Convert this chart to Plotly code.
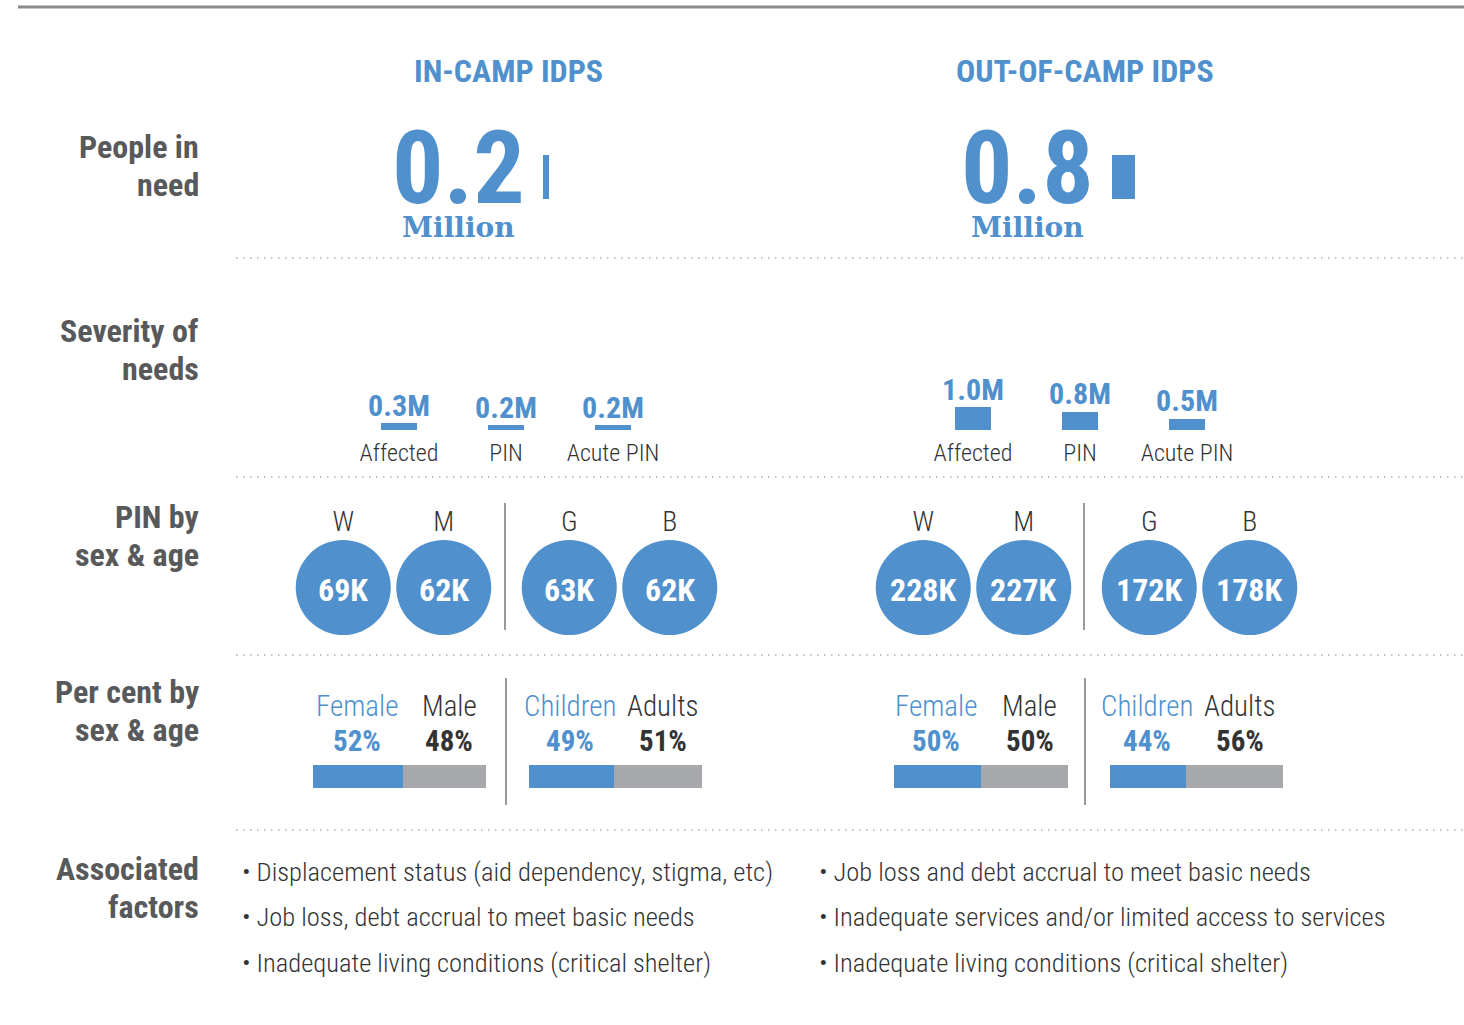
import plotly.graph_objects as go

# ── Canvas / colours ─────────────────────────────────────────────────────────
W, H = 1464, 1025
BLUE = "#4F90CD"
GREY_BAR = "#A7A8AB"
C_LABEL = "#58595B"
C_TEXT = "#333333"
C_RULE = "#8A8A8A"
C_DOT = "#B0B0B0"
FONT = "Roboto Condensed, Roboto, sans-serif"
SLAB = "Roboto Slab, DejaVu Serif, serif"

# ── Data ─────────────────────────────────────────────────────────────────────
groups = ["IN-CAMP IDPS", "OUT-OF-CAMP IDPS"]
pin_million = [0.2, 0.8]

severity_cats = ["Affected", "PIN", "Acute PIN"]
severity_in = [0.3, 0.2, 0.2]
severity_out = [1.0, 0.8, 0.5]

sex_cats = ["W", "M"]
age_cats = ["G", "B"]
pin_sex_in = [69, 62]
pin_age_in = [63, 62]
pin_sex_out = [228, 227]
pin_age_out = [172, 178]

pct_sex_labels = ["Female", "Male"]
pct_age_labels = ["Children", "Adults"]
pct_sex_in = [52, 48]
pct_age_in = [49, 51]
pct_sex_out = [50, 50]
pct_age_out = [44, 56]

row_labels = [["People in", "need"], ["Severity of", "needs"], ["PIN by", "sex & age"],
              ["Per cent by", "sex & age"], ["Associated", "factors"]]
factors_in = ["Displacement status (aid dependency, stigma, etc)",
              "Job loss, debt accrual to meet basic needs",
              "Inadequate living conditions (critical shelter)"]
factors_out = ["Job loss and debt accrual to meet basic needs",
               "Inadequate services and/or limited access to services",
               "Inadequate living conditions (critical shelter)"]

# ── Layout positions (pixels) ───────────────────────────────────────────────
COLS = [
    dict(head=508, num=458, bar_x=543, sev=(345.5, 666.5),
         circ=[(293, 494), (519, 720)], div=505, pct=[(313, 486), (529, 702)],
         severity=severity_in, pins=[pin_sex_in, pin_age_in],
         pcts=[pct_sex_in, pct_age_in], factors=factors_in, fx=240),
    dict(head=1085, num=1027, bar_x=1112, sev=(919.5, 1240.5),
         circ=[(873, 1074), (1099, 1300)], div=1084, pct=[(894, 1068), (1110, 1283)],
         severity=severity_out, pins=[pin_sex_out, pin_age_out],
         pcts=[pct_sex_out, pct_age_out], factors=factors_out, fx=817),
]
ROW_Y = [147, 331, 517, 692, 869]
LINE_GAP = 38
SEP_Y = [258, 477, 655, 830]

HIDDEN = dict(showgrid=False, zeroline=False, showline=False,
              showticklabels=False, ticks="", fixedrange=True)

axes = {}
_n = [1]


def new_axes(x0, x1, y0, y1, xkw=None, ykw=None):
    """Add an x/y axis pair occupying the pixel box (x0..x1, y0 top..y1 bottom)."""
    _n[0] += 1
    k = _n[0]
    axes[f"xaxis{k}"] = {**HIDDEN, "domain": [x0 / W, x1 / W], "anchor": f"y{k}", **(xkw or {})}
    axes[f"yaxis{k}"] = {**HIDDEN, "domain": [1 - y1 / H, 1 - y0 / H], "anchor": f"x{k}", **(ykw or {})}
    return f"x{k}", f"y{k}"


fig = go.Figure()
ann = []
shapes = []


def text(x, y, s, size, color, weight="normal", family=FONT, xanchor="center", **kw):
    ann.append(dict(x=x, y=y, xref=kw.pop("xref", "x"), yref="y", text=s, showarrow=False,
                    xanchor=xanchor, yanchor="middle",
                    font=dict(size=size, color=color, family=family, weight=weight), **kw))


# top rule
shapes.append(dict(type="line", xref="x", yref="y", x0=18, x1=W, y0=7, y1=7,
                   line=dict(color=C_RULE, width=3)))
# dotted separators
for y in SEP_Y:
    shapes.append(dict(type="line", xref="x", yref="y", x0=236, x1=W, y0=y, y1=y,
                       line=dict(color=C_DOT, width=1.5, dash="1.5px,5.5px")))

# row labels
for y, lines in zip(ROW_Y, row_labels):
    for j, line in enumerate(lines):
        text(201, y + j * LINE_GAP, line, 32, C_LABEL, "bold", xanchor="right")

for g, c in zip(groups, COLS):
    gi = COLS.index(c)
    # header
    text(c["head"], 71, g, 32, BLUE, "bold")

    # people in need
    text(c["num"], 168, f"{pin_million[gi]:.1f}", 102, BLUE, "bold")
    text(c["num"], 227, "Million", 28, BLUE, "bold", family=SLAB)
    xa, ya = new_axes(c["bar_x"], c["bar_x"] + 29, 155, 199,
                      dict(range=[0, 1]), dict(range=[-0.5, 0.5]))
    fig.add_trace(go.Bar(x=[pin_million[gi]], y=[0], orientation="h", width=1,
                         marker=dict(color=BLUE, line=dict(width=0)),
                         xaxis=xa, yaxis=ya, hoverinfo="skip"))

    # severity
    xa, ya = new_axes(c["sev"][0], c["sev"][1], 407, 430,
                      dict(type="category", range=[-0.5, 2.5], showticklabels=True,
                           tickfont=dict(size=24, color=C_TEXT, family=FONT, weight=300),
                           ticklabelstandoff=6),
                      dict(range=[0, 1]))
    fig.add_trace(go.Bar(x=severity_cats, y=c["severity"], width=0.33,
                         marker=dict(color=BLUE, line=dict(width=0)),
                         xaxis=xa, yaxis=ya, hoverinfo="skip"))
    fig.add_trace(go.Scatter(x=severity_cats, y=c["severity"], mode="text",
                             text=[f"{v:.1f}M" for v in c["severity"]],
                             textposition="top center", cliponaxis=False,
                             textfont=dict(size=30, color=BLUE, family=FONT, weight="bold"),
                             xaxis=xa, yaxis=ya, hoverinfo="skip"))

    # PIN by sex & age (circles)
    for (x0, x1), cats, vals in zip(c["circ"], [sex_cats, age_cats], c["pins"]):
        xa, ya = new_axes(x0, x1, 540, 635,
                          dict(type="category", range=[-0.5, 1.5], side="top",
                               showticklabels=True, ticklabelstandoff=2,
                               tickfont=dict(size=28, color=C_TEXT, family=FONT, weight=300)),
                          dict(range=[-1, 1]))
        fig.add_trace(go.Scatter(x=cats, y=[0] * len(cats), mode="markers",
                                 marker=dict(size=95, color=BLUE, line=dict(width=0)),
                                 cliponaxis=False, xaxis=xa, yaxis=ya, hoverinfo="skip"))
        for cat, v in zip(cats, vals):
            text(cat, 590, f"{v}K", 32, "white", "bold", xref=xa)
    shapes.append(dict(type="line", xref="x", yref="y", x0=c["div"], x1=c["div"],
                       y0=503, y1=630, line=dict(color="#9A9A9A", width=2)))

    # per cent by sex & age (stacked bars)
    for (x0, x1), labs, vals in zip(c["pct"], [pct_sex_labels, pct_age_labels], c["pcts"]):
        xa, ya = new_axes(x0, x1, 765, 788, dict(range=[0, 100]), dict(range=[-0.5, 0.5]))
        for v, col in zip(vals, [BLUE, GREY_BAR]):
            fig.add_trace(go.Bar(x=[v], y=[0], orientation="h", width=1,
                                 marker=dict(color=col, line=dict(width=0)),
                                 xaxis=xa, yaxis=ya, hoverinfo="skip"))
        mids = [vals[0] / 2, vals[0] + vals[1] / 2]
        for m, lab, v, col, dx in zip(mids, labs, vals, [BLUE, C_TEXT], [-1, 5]):
            text(m, 706, lab, 29, col, 300, xref=xa, xshift=dx)
            text(m, 741, f"{v}%", 29, col, "bold", xref=xa, xshift=dx)
    shapes.append(dict(type="line", xref="x", yref="y", x0=c["div"] + 1, x1=c["div"] + 1,
                       y0=678, y1=805, line=dict(color="#9A9A9A", width=2)))

    # associated factors
    for i, f in enumerate(c["factors"]):
        text(c["fx"], 871 + i * 45.5, f"• {f}", 26.5, C_TEXT, 300, xanchor="left")

fig.update_layout(
    width=W, height=H,
    margin=dict(l=0, r=0, t=0, b=0),
    paper_bgcolor="white", plot_bgcolor="rgba(0,0,0,0)",
    showlegend=False, barmode="stack",
    xaxis={**HIDDEN, "range": [0, W], "domain": [0, 1]},
    yaxis={**HIDDEN, "range": [H, 0], "domain": [0, 1]},
    annotations=ann, shapes=shapes,
    font=dict(family=FONT, color=C_TEXT),
    **axes,
)

fig.write_html("out.html", config={"displayModeBar": False},
               post_script="document.body.style.margin='0';")
